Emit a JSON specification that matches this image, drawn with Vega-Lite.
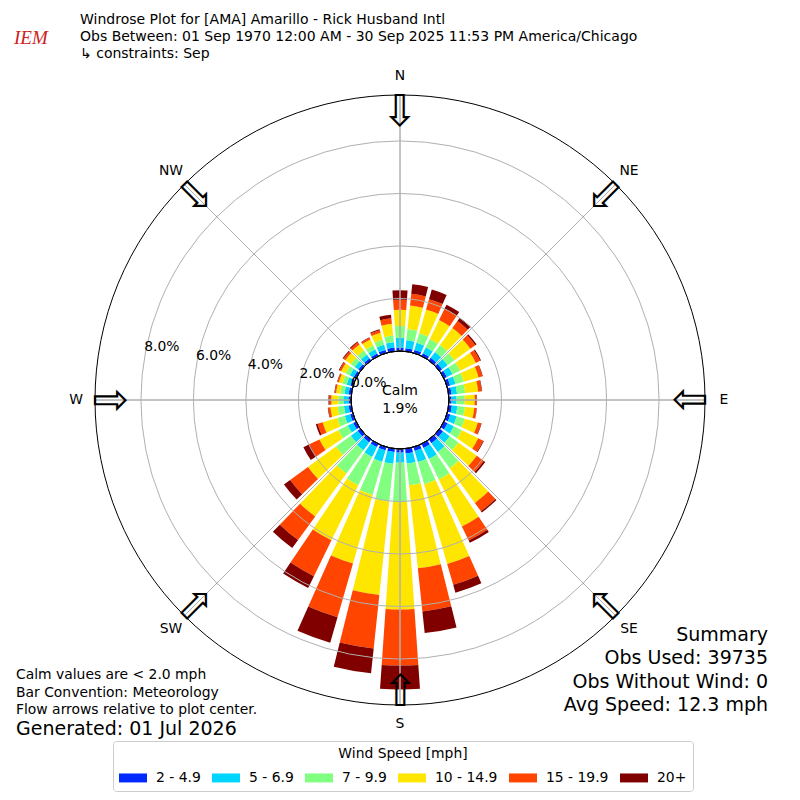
{
  "$schema": "https://vega.github.io/schema/vega-lite/v6.json",
  "width": 800,
  "height": 800,
  "autosize": {"type": "none"},
  "padding": 0,
  "background": "white",
  "config": {
    "view": {"stroke": null},
    "font": "DejaVu Sans",
    "text": {"font": "DejaVu Sans", "color": "black"}
  },
  "datasets": {
    "bars": [
      {"dir":0,"speed":"2 - 4.9","pct":0.13},{"dir":0,"speed":"5 - 6.9","pct":0.37},{"dir":0,"speed":"7 - 9.9","pct":0.45},{"dir":0,"speed":"10 - 14.9","pct":0.62},{"dir":0,"speed":"15 - 19.9","pct":0.38},{"dir":0,"speed":"20+","pct":0.36},
      {"dir":10,"speed":"2 - 4.9","pct":0.12},{"dir":10,"speed":"5 - 6.9","pct":0.30},{"dir":10,"speed":"7 - 9.9","pct":0.43},{"dir":10,"speed":"10 - 14.9","pct":0.90},{"dir":10,"speed":"15 - 19.9","pct":0.45},{"dir":10,"speed":"20+","pct":0.37},
      {"dir":20,"speed":"2 - 4.9","pct":0.12},{"dir":20,"speed":"5 - 6.9","pct":0.28},{"dir":20,"speed":"7 - 9.9","pct":0.38},{"dir":20,"speed":"10 - 14.9","pct":0.94},{"dir":20,"speed":"15 - 19.9","pct":0.41},{"dir":20,"speed":"20+","pct":0.38},
      {"dir":30,"speed":"2 - 4.9","pct":0.12},{"dir":30,"speed":"5 - 6.9","pct":0.25},{"dir":30,"speed":"7 - 9.9","pct":0.35},{"dir":30,"speed":"10 - 14.9","pct":0.80},{"dir":30,"speed":"15 - 19.9","pct":0.48},{"dir":30,"speed":"20+","pct":0.17},
      {"dir":40,"speed":"2 - 4.9","pct":0.12},{"dir":40,"speed":"5 - 6.9","pct":0.28},{"dir":40,"speed":"7 - 9.9","pct":0.32},{"dir":40,"speed":"10 - 14.9","pct":0.80},{"dir":40,"speed":"15 - 19.9","pct":0.33},{"dir":40,"speed":"20+","pct":0.16},
      {"dir":50,"speed":"2 - 4.9","pct":0.12},{"dir":50,"speed":"5 - 6.9","pct":0.26},{"dir":50,"speed":"7 - 9.9","pct":0.32},{"dir":50,"speed":"10 - 14.9","pct":0.75},{"dir":50,"speed":"15 - 19.9","pct":0.23},{"dir":50,"speed":"20+","pct":0.06},
      {"dir":60,"speed":"2 - 4.9","pct":0.12},{"dir":60,"speed":"5 - 6.9","pct":0.24},{"dir":60,"speed":"7 - 9.9","pct":0.32},{"dir":60,"speed":"10 - 14.9","pct":0.67},{"dir":60,"speed":"15 - 19.9","pct":0.18},{"dir":60,"speed":"20+","pct":0.04},
      {"dir":70,"speed":"2 - 4.9","pct":0.12},{"dir":70,"speed":"5 - 6.9","pct":0.22},{"dir":70,"speed":"7 - 9.9","pct":0.32},{"dir":70,"speed":"10 - 14.9","pct":0.59},{"dir":70,"speed":"15 - 19.9","pct":0.15},{"dir":70,"speed":"20+","pct":0.02},
      {"dir":80,"speed":"2 - 4.9","pct":0.11},{"dir":80,"speed":"5 - 6.9","pct":0.21},{"dir":80,"speed":"7 - 9.9","pct":0.31},{"dir":80,"speed":"10 - 14.9","pct":0.50},{"dir":80,"speed":"15 - 19.9","pct":0.13},{"dir":80,"speed":"20+","pct":0.02},
      {"dir":90,"speed":"2 - 4.9","pct":0.10},{"dir":90,"speed":"5 - 6.9","pct":0.19},{"dir":90,"speed":"7 - 9.9","pct":0.31},{"dir":90,"speed":"10 - 14.9","pct":0.38},{"dir":90,"speed":"15 - 19.9","pct":0.08},{"dir":90,"speed":"20+","pct":0.01},
      {"dir":100,"speed":"2 - 4.9","pct":0.12},{"dir":100,"speed":"5 - 6.9","pct":0.21},{"dir":100,"speed":"7 - 9.9","pct":0.29},{"dir":100,"speed":"10 - 14.9","pct":0.36},{"dir":100,"speed":"15 - 19.9","pct":0.09},{"dir":100,"speed":"20+","pct":0.01},
      {"dir":110,"speed":"2 - 4.9","pct":0.13},{"dir":110,"speed":"5 - 6.9","pct":0.25},{"dir":110,"speed":"7 - 9.9","pct":0.32},{"dir":110,"speed":"10 - 14.9","pct":0.52},{"dir":110,"speed":"15 - 19.9","pct":0.13},{"dir":110,"speed":"20+","pct":0.02},
      {"dir":120,"speed":"2 - 4.9","pct":0.15},{"dir":120,"speed":"5 - 6.9","pct":0.27},{"dir":120,"speed":"7 - 9.9","pct":0.33},{"dir":120,"speed":"10 - 14.9","pct":0.70},{"dir":120,"speed":"15 - 19.9","pct":0.21},{"dir":120,"speed":"20+","pct":0.03},
      {"dir":130,"speed":"2 - 4.9","pct":0.16},{"dir":130,"speed":"5 - 6.9","pct":0.32},{"dir":130,"speed":"7 - 9.9","pct":0.40},{"dir":130,"speed":"10 - 14.9","pct":0.87},{"dir":130,"speed":"15 - 19.9","pct":0.33},{"dir":130,"speed":"20+","pct":0.07},
      {"dir":140,"speed":"2 - 4.9","pct":0.17},{"dir":140,"speed":"5 - 6.9","pct":0.41},{"dir":140,"speed":"7 - 9.9","pct":0.77},{"dir":140,"speed":"10 - 14.9","pct":1.63},{"dir":140,"speed":"15 - 19.9","pct":0.39},{"dir":140,"speed":"20+","pct":0.06},
      {"dir":150,"speed":"2 - 4.9","pct":0.17},{"dir":150,"speed":"5 - 6.9","pct":0.47},{"dir":150,"speed":"7 - 9.9","pct":0.86},{"dir":150,"speed":"10 - 14.9","pct":2.00},{"dir":150,"speed":"15 - 19.9","pct":0.59},{"dir":150,"speed":"20+","pct":0.10},
      {"dir":160,"speed":"2 - 4.9","pct":0.15},{"dir":160,"speed":"5 - 6.9","pct":0.44},{"dir":160,"speed":"7 - 9.9","pct":0.88},{"dir":160,"speed":"10 - 14.9","pct":3.16},{"dir":160,"speed":"15 - 19.9","pct":0.83},{"dir":160,"speed":"20+","pct":0.31},
      {"dir":170,"speed":"2 - 4.9","pct":0.18},{"dir":170,"speed":"5 - 6.9","pct":0.39},{"dir":170,"speed":"7 - 9.9","pct":0.83},{"dir":170,"speed":"10 - 14.9","pct":3.18},{"dir":170,"speed":"15 - 19.9","pct":1.65},{"dir":170,"speed":"20+","pct":0.83},
      {"dir":180,"speed":"2 - 4.9","pct":0.14},{"dir":180,"speed":"5 - 6.9","pct":0.38},{"dir":180,"speed":"7 - 9.9","pct":1.50},{"dir":180,"speed":"10 - 14.9","pct":4.09},{"dir":180,"speed":"15 - 19.9","pct":2.14},{"dir":180,"speed":"20+","pct":0.91},
      {"dir":190,"speed":"2 - 4.9","pct":0.13},{"dir":190,"speed":"5 - 6.9","pct":0.45},{"dir":190,"speed":"7 - 9.9","pct":1.44},{"dir":190,"speed":"10 - 14.9","pct":3.58},{"dir":190,"speed":"15 - 19.9","pct":2.05},{"dir":190,"speed":"20+","pct":0.95},
      {"dir":200,"speed":"2 - 4.9","pct":0.13},{"dir":200,"speed":"5 - 6.9","pct":0.45},{"dir":200,"speed":"7 - 9.9","pct":1.32},{"dir":200,"speed":"10 - 14.9","pct":2.71},{"dir":200,"speed":"15 - 19.9","pct":2.13},{"dir":200,"speed":"20+","pct":1.01},
      {"dir":210,"speed":"2 - 4.9","pct":0.13},{"dir":210,"speed":"5 - 6.9","pct":0.42},{"dir":210,"speed":"7 - 9.9","pct":1.20},{"dir":210,"speed":"10 - 14.9","pct":2.33},{"dir":210,"speed":"15 - 19.9","pct":1.52},{"dir":210,"speed":"20+","pct":0.50},
      {"dir":220,"speed":"2 - 4.9","pct":0.13},{"dir":220,"speed":"5 - 6.9","pct":0.37},{"dir":220,"speed":"7 - 9.9","pct":1.10},{"dir":220,"speed":"10 - 14.9","pct":2.02},{"dir":220,"speed":"15 - 19.9","pct":1.11},{"dir":220,"speed":"20+","pct":0.38},
      {"dir":230,"speed":"2 - 4.9","pct":0.13},{"dir":230,"speed":"5 - 6.9","pct":0.32},{"dir":230,"speed":"7 - 9.9","pct":0.70},{"dir":230,"speed":"10 - 14.9","pct":1.32},{"dir":230,"speed":"15 - 19.9","pct":0.84},{"dir":230,"speed":"20+","pct":0.29},
      {"dir":240,"speed":"2 - 4.9","pct":0.12},{"dir":240,"speed":"5 - 6.9","pct":0.23},{"dir":240,"speed":"7 - 9.9","pct":0.40},{"dir":240,"speed":"10 - 14.9","pct":0.80},{"dir":240,"speed":"15 - 19.9","pct":0.43},{"dir":240,"speed":"20+","pct":0.25},
      {"dir":250,"speed":"2 - 4.9","pct":0.11},{"dir":250,"speed":"5 - 6.9","pct":0.21},{"dir":250,"speed":"7 - 9.9","pct":0.30},{"dir":250,"speed":"10 - 14.9","pct":0.58},{"dir":250,"speed":"15 - 19.9","pct":0.20},{"dir":250,"speed":"20+","pct":0.07},
      {"dir":260,"speed":"2 - 4.9","pct":0.10},{"dir":260,"speed":"5 - 6.9","pct":0.18},{"dir":260,"speed":"7 - 9.9","pct":0.24},{"dir":260,"speed":"10 - 14.9","pct":0.28},{"dir":260,"speed":"15 - 19.9","pct":0.08},{"dir":260,"speed":"20+","pct":0.02},
      {"dir":270,"speed":"2 - 4.9","pct":0.10},{"dir":270,"speed":"5 - 6.9","pct":0.19},{"dir":270,"speed":"7 - 9.9","pct":0.19},{"dir":270,"speed":"10 - 14.9","pct":0.27},{"dir":270,"speed":"15 - 19.9","pct":0.07},{"dir":270,"speed":"20+","pct":0.04},
      {"dir":280,"speed":"2 - 4.9","pct":0.10},{"dir":280,"speed":"5 - 6.9","pct":0.16},{"dir":280,"speed":"7 - 9.9","pct":0.16},{"dir":280,"speed":"10 - 14.9","pct":0.16},{"dir":280,"speed":"15 - 19.9","pct":0.05},{"dir":280,"speed":"20+","pct":0.02},
      {"dir":290,"speed":"2 - 4.9","pct":0.10},{"dir":290,"speed":"5 - 6.9","pct":0.15},{"dir":290,"speed":"7 - 9.9","pct":0.16},{"dir":290,"speed":"10 - 14.9","pct":0.15},{"dir":290,"speed":"15 - 19.9","pct":0.05},{"dir":290,"speed":"20+","pct":0.02},
      {"dir":300,"speed":"2 - 4.9","pct":0.10},{"dir":300,"speed":"5 - 6.9","pct":0.16},{"dir":300,"speed":"7 - 9.9","pct":0.17},{"dir":300,"speed":"10 - 14.9","pct":0.20},{"dir":300,"speed":"15 - 19.9","pct":0.07},{"dir":300,"speed":"20+","pct":0.03},
      {"dir":310,"speed":"2 - 4.9","pct":0.10},{"dir":310,"speed":"5 - 6.9","pct":0.17},{"dir":310,"speed":"7 - 9.9","pct":0.18},{"dir":310,"speed":"10 - 14.9","pct":0.26},{"dir":310,"speed":"15 - 19.9","pct":0.09},{"dir":310,"speed":"20+","pct":0.04},
      {"dir":320,"speed":"2 - 4.9","pct":0.10},{"dir":320,"speed":"5 - 6.9","pct":0.18},{"dir":320,"speed":"7 - 9.9","pct":0.19},{"dir":320,"speed":"10 - 14.9","pct":0.28},{"dir":320,"speed":"15 - 19.9","pct":0.10},{"dir":320,"speed":"20+","pct":0.04},
      {"dir":330,"speed":"2 - 4.9","pct":0.11},{"dir":330,"speed":"5 - 6.9","pct":0.17},{"dir":330,"speed":"7 - 9.9","pct":0.18},{"dir":330,"speed":"10 - 14.9","pct":0.24},{"dir":330,"speed":"15 - 19.9","pct":0.07},{"dir":330,"speed":"20+","pct":0.02},
      {"dir":340,"speed":"2 - 4.9","pct":0.12},{"dir":340,"speed":"5 - 6.9","pct":0.20},{"dir":340,"speed":"7 - 9.9","pct":0.20},{"dir":340,"speed":"10 - 14.9","pct":0.28},{"dir":340,"speed":"15 - 19.9","pct":0.10},{"dir":340,"speed":"20+","pct":0.04},
      {"dir":350,"speed":"2 - 4.9","pct":0.14},{"dir":350,"speed":"5 - 6.9","pct":0.21},{"dir":350,"speed":"7 - 9.9","pct":0.25},{"dir":350,"speed":"10 - 14.9","pct":0.45},{"dir":350,"speed":"15 - 19.9","pct":0.21},{"dir":350,"speed":"20+","pct":0.14}
    ],
    "compass": [
      {"dir":0,"label":"N"},{"dir":45,"label":"NE"},{"dir":90,"label":"E"},{"dir":135,"label":"SE"},
      {"dir":180,"label":"S"},{"dir":225,"label":"SW"},{"dir":270,"label":"W"},{"dir":315,"label":"NW"}
    ],
    "rings": [
      {"pct":0,"label":"0.0%"},{"pct":2,"label":"2.0%"},{"pct":4,"label":"4.0%"},{"pct":6,"label":"6.0%"},{"pct":8,"label":"8.0%"}
    ]
  },
  "resolve": {"scale": {"x": "independent", "y": "independent"}},
  "layer": [
    {
      "data": {"name": "bars"},
      "transform": [
        {"calculate": "indexof(['2 - 4.9', '5 - 6.9', '7 - 9.9', '10 - 14.9', '15 - 19.9', '20+'], datum.speed)", "as": "ord"},
        {"stack": "pct", "groupby": ["dir"], "sort": [{"field": "ord", "order": "ascending"}], "as": ["p0", "p1"]}
      ],
      "mark": {"type": "arc", "thetaOffset": -0.069, "theta2Offset": 0.069},
      "encoding": {
        "theta": {"field": "dir", "type": "quantitative", "stack": null, "scale": {"domain": [0, 360], "range": [0, 6.283185307179586]}},
        "theta2": {"field": "dir"},
        "radius": {"field": "p1", "type": "quantitative", "stack": null, "scale": {"type": "linear", "domain": [0, 9.75], "range": [49, 305]}},
        "radius2": {"field": "p0"},
        "color": {
          "field": "speed",
          "type": "nominal",
          "scale": {
            "domain": ["2 - 4.9", "5 - 6.9", "7 - 9.9", "10 - 14.9", "15 - 19.9", "20+"],
            "range": ["#0028ff", "#00d5ff", "#80ff80", "#ffe600", "#ff4500", "#800000"]
          },
          "legend": {
            "title": "Wind Speed [mph]",
            "orient": "none",
            "legendX": 113,
            "legendY": 741,
            "direction": "horizontal",
            "columns": 6,
            "symbolType": "M-1,-0.32H1V0.32H-1Z",
            "symbolSize": 784,
            "symbolStrokeWidth": 0,
            "symbolOpacity": 1,
            "labelFont": "DejaVu Sans",
            "labelFontSize": 13.9,
            "labelColor": "black",
            "labelOffset": 9,
            "columnPadding": 11,
            "titleFont": "DejaVu Sans",
            "titleFontSize": 13.9,
            "titleFontWeight": "normal",
            "titleColor": "black",
            "titleAnchor": "middle",
            "titlePadding": 3,
            "strokeColor": "#cccccc",
            "fillColor": "white",
            "padding": 6,
            "cornerRadius": 3
          }
        }
      }
    },
    {
      "data": {"name": "rings"},
      "transform": [{"filter": "datum.pct > 0"}],
      "mark": {"type": "arc", "filled": false, "stroke": "#b0b0b0", "strokeWidth": 1, "theta": 0, "theta2": 6.283185307179586},
      "encoding": {
        "radius": {"field": "pct", "type": "quantitative", "stack": null, "scale": {"type": "linear", "domain": [0, 9.75], "range": [49, 305]}}
      }
    },
    {
      "data": {"name": "compass"},
      "mark": {"type": "arc", "filled": false, "stroke": "#b0b0b0", "strokeWidth": 1},
      "encoding": {
        "theta": {"field": "dir", "type": "quantitative", "stack": null, "scale": {"domain": [0, 360], "range": [0, 6.283185307179586]}},
        "theta2": {"field": "dir"},
        "radius": {"datum": 9.75, "type": "quantitative", "scale": {"type": "linear", "domain": [0, 9.75], "range": [49, 305]}},
        "radius2": {"datum": 0}
      }
    },
    {
      "data": {"values": [{"edge": "outer"}]},
      "mark": {"type": "arc", "filled": false, "stroke": "black", "strokeWidth": 1, "theta": 0, "theta2": 6.283185307179586},
      "encoding": {
        "radius": {"datum": 9.75, "type": "quantitative", "stack": null, "scale": {"type": "linear", "domain": [0, 9.75], "range": [49, 305]}}
      }
    },
    {
      "data": {"values": [{"edge": "calm"}]},
      "mark": {"type": "arc", "fill": "white", "stroke": "black", "strokeWidth": 1, "theta": 0, "theta2": 6.283185307179586},
      "encoding": {
        "radius": {"datum": 0, "type": "quantitative", "stack": null, "scale": {"type": "linear", "domain": [0, 9.75], "range": [49, 305]}}
      }
    },
    {
      "data": {"name": "rings"},
      "mark": {"type": "text", "fontSize": 13.9, "align": "center", "baseline": "middle", "dx": 17, "dy": -8},
      "encoding": {
        "theta": {"datum": 280, "type": "quantitative", "scale": {"domain": [0, 360], "range": [0, 6.283185307179586]}},
        "radius": {"field": "pct", "type": "quantitative", "stack": null, "scale": {"type": "linear", "domain": [0, 9.75], "range": [49, 305]}},
        "text": {"field": "label"}
      }
    },
    {
      "data": {"name": "compass"},
      "mark": {"type": "text", "fontSize": 13.9, "align": "center", "baseline": "middle"},
      "encoding": {
        "theta": {"field": "dir", "type": "quantitative", "stack": null, "scale": {"domain": [0, 360], "range": [0, 6.283185307179586]}},
        "radius": {"datum": 10.47, "type": "quantitative", "scale": {"type": "linear", "domain": [0, 9.75], "range": [49, 305]}},
        "text": {"field": "label"}
      }
    },
    {
      "data": {"name": "compass"},
      "mark": {"type": "text", "text": "⇩", "fontSize": 44, "align": "center", "baseline": "middle"},
      "encoding": {
        "theta": {"field": "dir", "type": "quantitative", "stack": null, "scale": {"domain": [0, 360], "range": [0, 6.283185307179586]}},
        "radius": {"datum": 9.06, "type": "quantitative", "scale": {"type": "linear", "domain": [0, 9.75], "range": [49, 305]}},
        "angle": {"field": "dir", "type": "quantitative", "scale": null}
      }
    },
    {
      "data": {"values": [{"text": ["Calm", "1.9%"]}]},
      "mark": {"type": "text", "fontSize": 14, "lineHeight": 18, "align": "center", "baseline": "middle", "dy": -9},
      "encoding": {
        "text": {"field": "text"}
      }
    },
    {
      "data": {"values": [{"block": "logo", "text": "IEM"}]},
      "mark": {"type": "text", "font": "Liberation Serif", "fontStyle": "italic", "fontSize": 19, "color": "#cc2222", "align": "left", "baseline": "middle"},
      "encoding": {
        "x": {"field": "block", "type": "nominal", "axis": null, "scale": {"range": [14, 14]}},
        "y": {"field": "block", "type": "nominal", "axis": null, "scale": {"range": [38, 38]}},
        "text": {"field": "text"}
      }
    },
    {
      "data": {"values": [{"block": "head", "text": ["Windrose Plot for [AMA] Amarillo - Rick Husband Intl", "Obs Between: 01 Sep 1970 12:00 AM - 30 Sep 2025 11:53 PM America/Chicago", "↳ constraints: Sep"]}]},
      "mark": {"type": "text", "fontSize": 14, "lineHeight": 17, "align": "left", "baseline": "middle"},
      "encoding": {
        "x": {"field": "block", "type": "nominal", "axis": null, "scale": {"range": [80, 80]}},
        "y": {"field": "block", "type": "nominal", "axis": null, "scale": {"range": [20, 20]}},
        "text": {"field": "text"}
      }
    },
    {
      "data": {"values": [{"block": "notes", "text": ["Calm values are < 2.0 mph", "Bar Convention: Meteorology", "Flow arrows relative to plot center."]}]},
      "mark": {"type": "text", "fontSize": 13.9, "lineHeight": 17.5, "align": "left", "baseline": "middle"},
      "encoding": {
        "x": {"field": "block", "type": "nominal", "axis": null, "scale": {"range": [16, 16]}},
        "y": {"field": "block", "type": "nominal", "axis": null, "scale": {"range": [675, 675]}},
        "text": {"field": "text"}
      }
    },
    {
      "data": {"values": [{"block": "generated", "text": "Generated: 01 Jul 2026"}]},
      "mark": {"type": "text", "fontSize": 19, "align": "left", "baseline": "middle"},
      "encoding": {
        "x": {"field": "block", "type": "nominal", "axis": null, "scale": {"range": [16, 16]}},
        "y": {"field": "block", "type": "nominal", "axis": null, "scale": {"range": [729, 729]}},
        "text": {"field": "text"}
      }
    },
    {
      "data": {"values": [{"block": "summary", "text": ["Summary", "Obs Used: 39735", "Obs Without Wind: 0", "Avg Speed: 12.3 mph"]}]},
      "mark": {"type": "text", "fontSize": 19, "lineHeight": 23.3, "align": "right", "baseline": "middle"},
      "encoding": {
        "x": {"field": "block", "type": "nominal", "axis": null, "scale": {"range": [768, 768]}},
        "y": {"field": "block", "type": "nominal", "axis": null, "scale": {"range": [635, 635]}},
        "text": {"field": "text"}
      }
    }
  ]
}
